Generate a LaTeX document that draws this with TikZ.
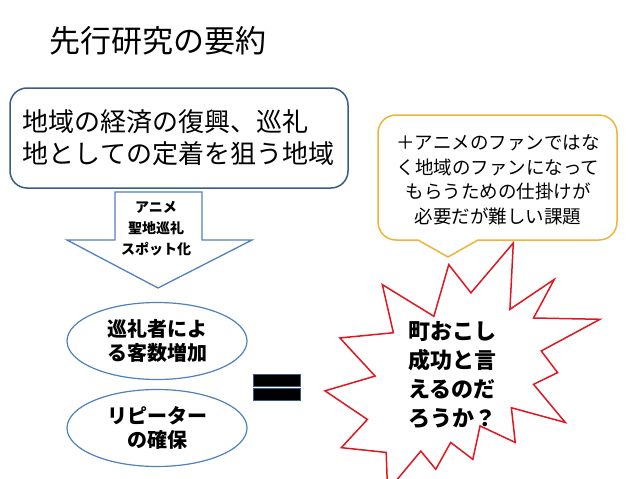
\documentclass[tikz,border=0pt]{standalone}
\usepackage{fontspec}
\setmainfont{Noto Sans CJK JP}
\usetikzlibrary{shapes.geometric}
\definecolor{boxblue}{HTML}{385D8A}
\definecolor{lineblue}{HTML}{4F81BD}
\definecolor{goldline}{RGB}{236,180,60}
\definecolor{burstred}{RGB}{222,24,32}
\begin{document}
\begin{tikzpicture}[x=1pt,y=-1pt,
  bluebox/.style={draw=boxblue, line width=1.5pt, rounded corners=17pt, fill=white, inner sep=0pt},
  arrowshape/.style={draw=lineblue, line width=1.3pt, fill=white, line join=miter},
  oval/.style={ellipse, draw=lineblue, line width=1.2pt, fill=white, inner sep=0pt,
    minimum width=180pt, minimum height=77pt, align=center, font=\bfseries\fontsize{20}{24}\selectfont},
  callout/.style={draw=goldline, line width=1.5pt, fill=white, line join=miter},
  burst/.style={draw=burstred, line width=1.5pt, fill=white, line join=miter},
  eqbar/.style={draw=boxblue, line width=1pt, fill=black},
  plain/.style={inner sep=0pt, align=center}
]
\useasboundingbox (0,0) rectangle (638,479);
\clip (0,0) rectangle (638,479);
\fill[white] (0,0) rectangle (638,479);

% title
\node (title) [plain, font=\fontsize{31}{36}\selectfont] at (158,41) {先行研究の要約};

% top-left box
\node (box1) [bluebox, minimum width=338pt, minimum height=100pt, text width=312pt, align=left,
  font=\fontsize{26}{32}\selectfont] at (179,138) {地域の経済の復興、巡礼\\地としての定着を狙う地域};

% block arrow
\draw[arrowshape] (115,192) -- (202,192) -- (202,240) -- (252,240) -- (158,288) -- (67,240) -- (115,240) -- cycle;
\node (arrowtext) [plain, font=\bfseries\fontsize{14}{21}\selectfont] at (156,229) {アニメ\\聖地巡礼\\スポット化};

% ellipses
\node (oval1) [oval] at (157,341) {巡礼者によ\\る客数増加};
\node (oval2) [oval] at (157,428) {リピーター\\の確保};

% equals sign
\draw[eqbar] (253,374) rectangle (300,386);
\draw[eqbar] (253,388) rectangle (300,400);

% callout
\draw[callout] (418,240) -- (396,240) arc[start angle=270, end angle=180, radius=18pt]
  -- (378,133) arc[start angle=180, end angle=90, radius=18pt]
  -- (599,115) arc[start angle=90, end angle=0, radius=18pt]
  -- (617,222) arc[start angle=0, end angle=-90, radius=18pt]
  -- (478,240) -- (448,257) -- cycle;
\node (calltext) [plain, font=\fontsize{18.5}{24.5}\selectfont] at (498,180)
  {＋アニメのファンではな\\く地域のファンになって\\もらうための仕掛けが\\必要だが難しい課題};

% explosion
\begin{scope}[shift={(325,243)}, x=1.27315pt, y=-1.14815pt]
\draw[burst] (114.62,43.42) -- (147.90,0) -- (145.25,57.77) -- (180.07,31.72) -- (163.80,65.32)
  -- (216,66.45) -- (169.85,94.02) -- (182.70,112.90) -- (163.80,123.10) -- (188.77,156.32)
  -- (146.40,143.50) -- (149.42,173.70) -- (121.80,159.35) -- (116.12,188.42) -- (98.72,173.70)
  -- (87.00,197.12) -- (75.27,181.25) -- (49.17,216) -- (48.05,182.40) -- (12.85,178.25)
  -- (33.30,153.70) -- (0,128.77) -- (39.35,115.92) -- (11.72,82.70) -- (53.72,78.17)
  -- (45.02,36.25) -- (85.50,63.82) -- (97.22,18.87) -- cycle;
\end{scope}
\node (bursttext) [plain, font=\bfseries\fontsize{22}{29}\selectfont] at (452,375)
  {町おこし\\成功と言\\えるのだ\\ろうか？};
\end{tikzpicture}
\end{document}
